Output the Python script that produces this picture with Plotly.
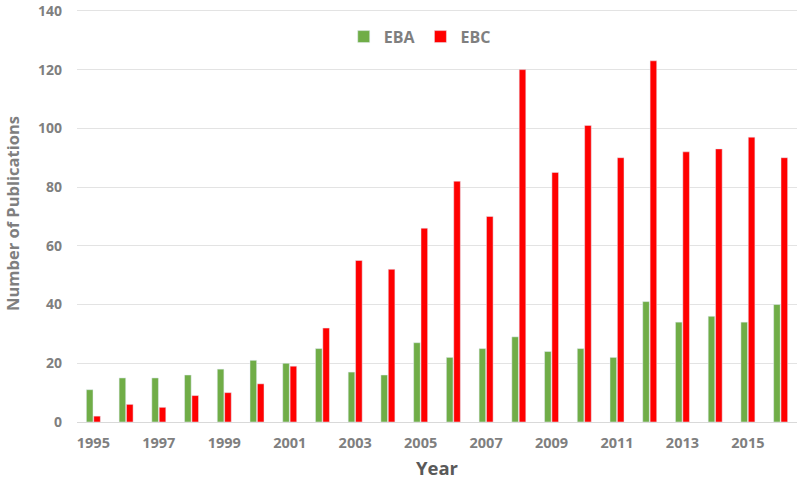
import plotly.graph_objects as go

years = [str(y) for y in range(1995, 2017)]
eba = [11, 15, 15, 16, 18, 21, 20, 25, 17, 16, 27, 22, 25, 29, 24, 25, 22, 41, 34, 36, 34, 40]
ebc = [2, 6, 5, 9, 10, 13, 19, 32, 55, 52, 66, 82, 70, 120, 85, 101, 90, 123, 92, 93, 97, 90]
tick_years = [str(y) for y in range(1995, 2017, 2)]

grey = "#7f7f7f"
font = "Open Sans"

fig = go.Figure()
fig.add_trace(go.Bar(x=years, y=eba, name="EBA", marker_color="#70AD47"))
fig.add_trace(go.Bar(x=years, y=ebc, name="EBC", marker_color="#FF0000"))

fig.update_layout(
    width=800, height=480,
    margin=dict(l=77, r=3, t=1, b=58),
    plot_bgcolor="white", paper_bgcolor="white",
    barmode="group", bargap=0.55, bargroupgap=0.1,
    font=dict(family=font, color=grey),
    legend=dict(orientation="h", x=0.476, xanchor="center", y=0.924, yanchor="middle",
                font=dict(size=16, color=grey, family=font, weight="bold"),
                itemwidth=30, traceorder="normal"),
    showlegend=True,
)
fig.update_xaxes(
    type="category", tickmode="array", tickvals=tick_years, ticktext=tick_years,
    showgrid=False, showline=True, linecolor="#d9d9d9", ticks="",
    ticklabelstandoff=8,
    tickfont=dict(size=14.5, color=grey, family=font, weight="bold"),
    title=dict(text="Year", font=dict(size=18.5, color="#595959", family=font, weight="bold"),
               standoff=11),
)
# range goes a little past 140 so the top grid line and label are not clipped
fig.update_yaxes(
    range=[0, 142], tickvals=[0, 20, 40, 60, 80, 100, 120, 140],
    showgrid=True, gridcolor="#e3e3e3", zeroline=False,
    showline=False, ticks="", ticklabeloverflow="allow", ticklabelstandoff=14,
    tickfont=dict(size=14, color=grey, family=font, weight="bold"),
    title=dict(text="Number of Publications", font=dict(size=16.5, color=grey, family=font, weight="bold"),
               standoff=14),
)

# drop the default 8px body margin so the figure fills the window
fig.write_html("out.html", config={"displayModeBar": False},
               post_script="document.body.style.margin='0';")
